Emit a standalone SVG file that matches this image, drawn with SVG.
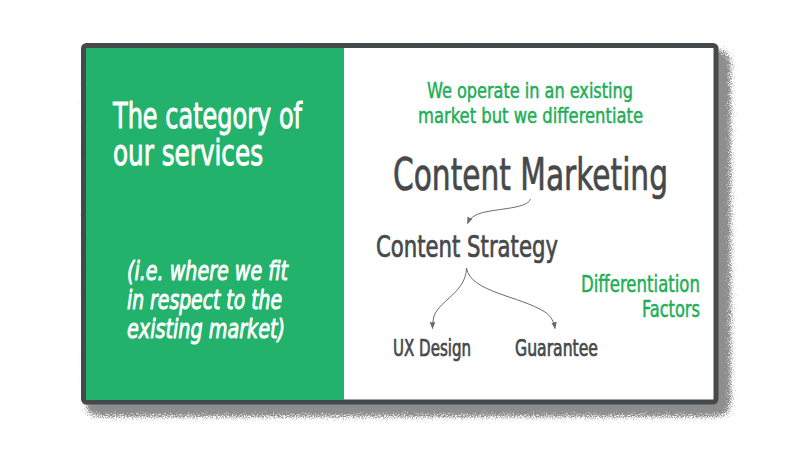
<svg xmlns="http://www.w3.org/2000/svg" width="800" height="449" viewBox="0 0 800 449">
<defs>
<style>
.t{font-family:'DejaVu Sans Condensed','Liberation Sans Narrow','Roboto',sans-serif;stroke-linejoin:round;}
.w{fill:#ffffff;stroke:#ffffff;stroke-width:0.9;}
.g{fill:#1fae57;stroke:#1fae57;stroke-width:0.5;}
.d{fill:#46494b;stroke:#46494b;stroke-width:0.7;}
.conn{fill:none;stroke:#6b6b6b;stroke-width:1;}
</style>
<filter id="grain" x="-5%" y="-5%" width="115%" height="125%">
<feGaussianBlur in="SourceAlpha" stdDeviation="7" result="blur"/>
<feTurbulence type="fractalNoise" baseFrequency="0.9" numOctaves="2" seed="4" result="noise"/>
<feColorMatrix in="noise" type="matrix" values="0 0 0 0 0 0 0 0 0 0 0 0 0 0 0 1 0 0 0 0" result="na"/>
<feComposite in="blur" in2="na" operator="arithmetic" k1="0" k2="3.2" k3="-3" k4="0.9" result="m"/>
<feComponentTransfer in="blur" result="mask"><feFuncA type="linear" slope="3" intercept="-0.05"/></feComponentTransfer>
<feComposite in="m" in2="mask" operator="in" result="m2"/>
<feColorMatrix in="m2" type="matrix" values="0 0 0 0 0.27 0 0 0 0 0.27 0 0 0 0 0.27 0 0 0 1 0"/>
</filter>
<marker id="ah" viewBox="0 0 10 10" refX="9" refY="5" markerWidth="7" markerHeight="7" orient="auto" markerUnits="userSpaceOnUse">
<path d="M0,1 L10,5 L0,9 z" fill="#6b6b6b"/>
</marker>
</defs>
<rect width="800" height="449" fill="#ffffff"/>
<g id="frame">
<rect x="88" y="52" width="640" height="362" fill="#000" filter="url(#grain)"/>
<rect x="83.5" y="45.5" width="632.5" height="356.5" rx="3" fill="#ffffff" stroke="#45494c" stroke-width="5"/>
<rect x="86" y="48" width="258" height="352" fill="#22b26b"/>
</g>
<g id="left-title">
<text class="t w" font-size="36" x="113" y="128" textLength="189" lengthAdjust="spacingAndGlyphs">The category of</text>
<text class="t w" font-size="36" x="113" y="165" textLength="150" lengthAdjust="spacingAndGlyphs">our services</text>
</g>
<g id="left-note">
<text class="t w" font-size="26" font-style="italic" x="127" y="280" textLength="161" lengthAdjust="spacingAndGlyphs">(i.e. where we fit</text>
<text class="t w" font-size="26" font-style="italic" x="127" y="309" textLength="155" lengthAdjust="spacingAndGlyphs">in respect to the</text>
<text class="t w" font-size="26" font-style="italic" x="127" y="338" textLength="158" lengthAdjust="spacingAndGlyphs">existing market)</text>
</g>
<g id="tagline">
<text class="t g" font-size="21.5" x="427" y="98" textLength="206" lengthAdjust="spacingAndGlyphs">We operate in an existing</text>
<text class="t g" font-size="21.5" x="418" y="123" textLength="225" lengthAdjust="spacingAndGlyphs">market but we differentiate</text>
</g>
<g id="content-marketing">
<text class="t d" font-size="44" x="393" y="190" textLength="275" lengthAdjust="spacingAndGlyphs">Content Marketing</text>
</g>
<g id="content-strategy">
<text class="t d" font-size="30" x="376" y="257" textLength="182" lengthAdjust="spacingAndGlyphs">Content Strategy</text>
</g>
<g id="differentiation">
<text class="t g" font-size="23" x="581" y="292" textLength="119" lengthAdjust="spacingAndGlyphs">Differentiation</text>
<text class="t g" font-size="23" x="642" y="317" textLength="58" lengthAdjust="spacingAndGlyphs">Factors</text>
</g>
<g id="ux-design">
<text class="t d" font-size="22.5" x="393" y="356" textLength="78" lengthAdjust="spacingAndGlyphs">UX Design</text>
</g>
<g id="guarantee">
<text class="t d" font-size="22.5" x="515" y="356" textLength="83" lengthAdjust="spacingAndGlyphs">Guarantee</text>
</g>
<g id="connectors">
<path class="conn" d="M530.5,199 C527,210 490,208 476,215 C472,217 469,220 467.5,223.5" marker-end="url(#ah)"/>
<path class="conn" d="M466.5,268 C466,292 440,300 434,316 C433,320 432.5,324 432.5,328.5" marker-end="url(#ah)"/>
<path class="conn" d="M466.5,268 C470,292 520,296 545,312 C551,316 554,322 555,328.5" marker-end="url(#ah)"/>
</g>
</svg>
